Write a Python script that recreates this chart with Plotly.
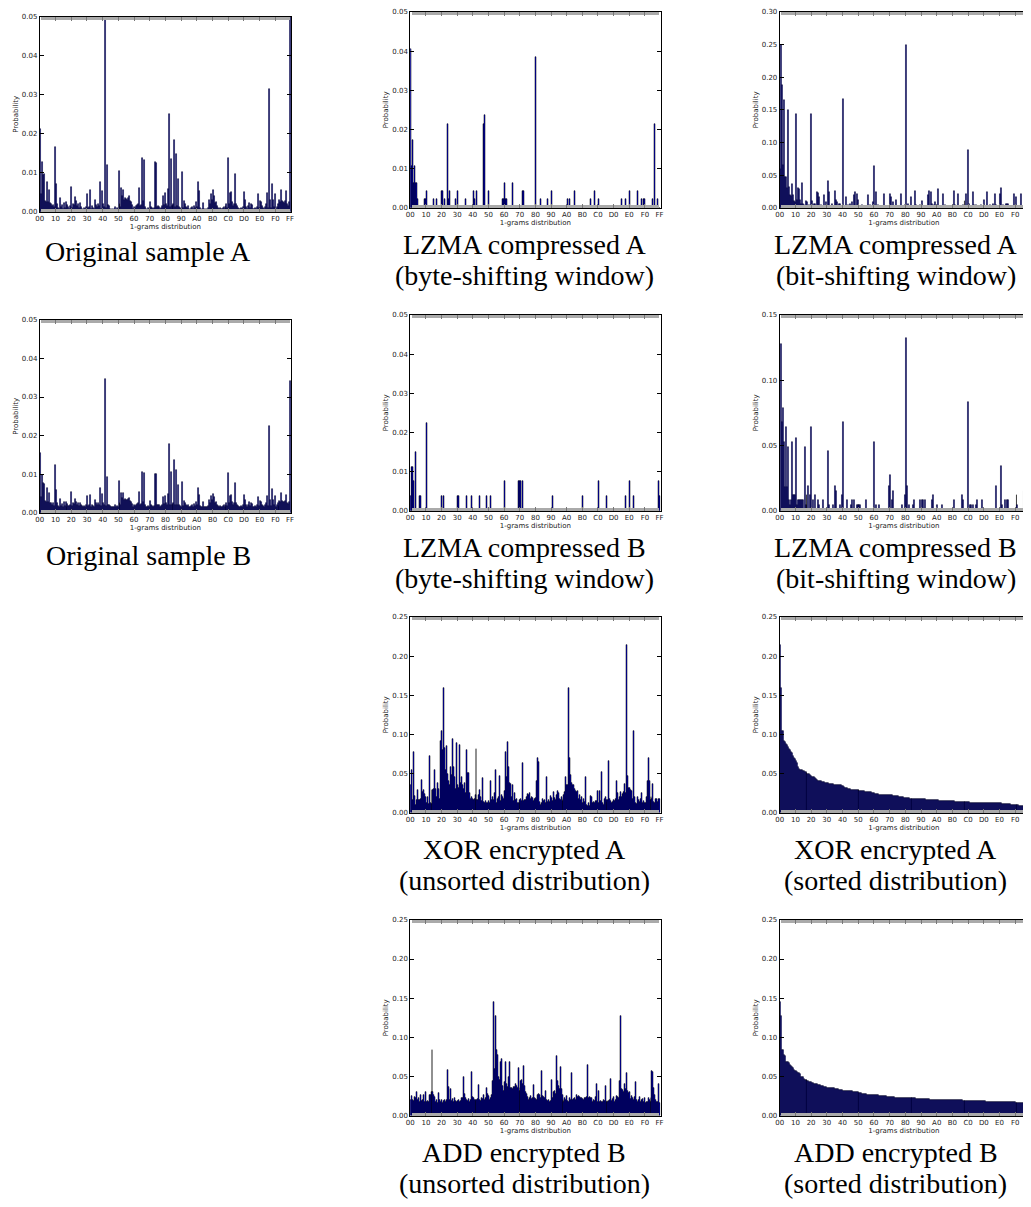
import plotly.graph_objects as go

# page is 1031x1207; the html body has an 8px margin, so the figure is offset by 8px
OFF = 8
W, H = 1031 - OFF, 1207 - OFF

# ---------------- DATA ----------------
byte_labels = ["00", "10", "20", "30", "40", "50", "60", "70", "80", "90",
               "A0", "B0", "C0", "D0", "E0", "F0", "FF"]
byte_ticks = [0, 16, 32, 48, 64, 80, 96, 112, 128, 144, 160, 176, 192, 208, 224, 240, 255]

orig_a = [
    0.0213, 0.0045, 0.0127, 0.0093, 0.0096, 0.0027, 0.0026, 0.0075, 0.0025, 0.0057, 0.0022, 0.0020, 0.0015, 0.0018, 0.0012, 0.0165,
    0.0072, 0.0020, 0.0010, 0.0008, 0.0035, 0.0012, 0.0018, 0.0008, 0.0022, 0.0010, 0.0025, 0.0006, 0.0018, 0.0012, 0.0008, 0.0015,
    0.0064, 0.0010, 0.0020, 0.0018, 0.0037, 0.0028, 0.0015, 0.0020, 0.0010, 0.0022, 0.0012, 0.0008, 0.0005, 0.0010, 0.0008, 0.0012,
    0.0045, 0.0010, 0.0012, 0.0055, 0.0008, 0.0015, 0.0010, 0.0006, 0.0030, 0.0018, 0.0012, 0.0020, 0.0015, 0.0075, 0.0008, 0.0052,
    0.0020, 0.0012, 0.0497, 0.0010, 0.0120, 0.0016, 0.0014, 0.0008, 0.0005, 0.0006, 0.0005, 0.0008, 0.0012, 0.0005, 0.0010, 0.0008,
    0.0105, 0.0020, 0.0012, 0.0062, 0.0040, 0.0055, 0.0030, 0.0035, 0.0033, 0.0030, 0.0036, 0.0040, 0.0028, 0.0025, 0.0018, 0.0008,
    0.0012, 0.0010, 0.0015, 0.0018, 0.0020, 0.0062, 0.0015, 0.0018, 0.0137, 0.0028, 0.0132, 0.0012, 0.0008, 0.0005, 0.0010, 0.0008,
    0.0025, 0.0012, 0.0010, 0.0008, 0.0010, 0.0128, 0.0126, 0.0012, 0.0015, 0.0012, 0.0008, 0.0010, 0.0015, 0.0040, 0.0018, 0.0048,
    0.0020, 0.0015, 0.0058, 0.0250, 0.0012, 0.0136, 0.0015, 0.0018, 0.0020, 0.0185, 0.0012, 0.0148, 0.0015, 0.0085, 0.0012, 0.0010,
    0.0008, 0.0101, 0.0010, 0.0028, 0.0020, 0.0012, 0.0010, 0.0015, 0.0008, 0.0005, 0.0010, 0.0012, 0.0008, 0.0015, 0.0010, 0.0026,
    0.0012, 0.0077, 0.0053, 0.0010, 0.0005, 0.0008, 0.0022, 0.0006, 0.0004, 0.0008, 0.0005, 0.0010, 0.0030, 0.0020, 0.0046, 0.0030,
    0.0055, 0.0040, 0.0022, 0.0026, 0.0015, 0.0010, 0.0008, 0.0010, 0.0006, 0.0008, 0.0010, 0.0012, 0.0008, 0.0015, 0.0020, 0.0010,
    0.0139, 0.0020, 0.0048, 0.0050, 0.0025, 0.0015, 0.0020, 0.0097, 0.0020, 0.0015, 0.0010, 0.0008, 0.0006, 0.0010, 0.0008, 0.0012,
    0.0051, 0.0029, 0.0012, 0.0008, 0.0015, 0.0022, 0.0010, 0.0020, 0.0018, 0.0008, 0.0006, 0.0010, 0.0008, 0.0012, 0.0045, 0.0010,
    0.0028, 0.0025, 0.0015, 0.0010, 0.0008, 0.0012, 0.0020, 0.0048, 0.0010, 0.0315, 0.0030, 0.0010, 0.0071, 0.0030, 0.0012, 0.0046,
    0.0008, 0.0012, 0.0020, 0.0010, 0.0030, 0.0026, 0.0055, 0.0028, 0.0026, 0.0022, 0.0028, 0.0052, 0.0020, 0.0015, 0.0025, 0.0500,
]

orig_b = [
    0.0155, 0.0040, 0.0098, 0.0076, 0.0075, 0.0030, 0.0029, 0.0063, 0.0028, 0.0052, 0.0026, 0.0025, 0.0020, 0.0024, 0.0018, 0.0125,
    0.0060, 0.0024, 0.0018, 0.0016, 0.0035, 0.0018, 0.0022, 0.0016, 0.0028, 0.0018, 0.0027, 0.0015, 0.0022, 0.0018, 0.0017, 0.0020,
    0.0055, 0.0018, 0.0024, 0.0022, 0.0035, 0.0028, 0.0020, 0.0024, 0.0018, 0.0025, 0.0019, 0.0017, 0.0015, 0.0018, 0.0016, 0.0019,
    0.0043, 0.0018, 0.0019, 0.0047, 0.0016, 0.0021, 0.0018, 0.0015, 0.0032, 0.0024, 0.0020, 0.0025, 0.0021, 0.0063, 0.0017, 0.0048,
    0.0024, 0.0019, 0.0347, 0.0018, 0.0093, 0.0021, 0.0020, 0.0017, 0.0015, 0.0016, 0.0015, 0.0016, 0.0019, 0.0015, 0.0018, 0.0016,
    0.0082, 0.0024, 0.0019, 0.0051, 0.0038, 0.0051, 0.0033, 0.0035, 0.0034, 0.0033, 0.0036, 0.0038, 0.0030, 0.0028, 0.0022, 0.0016,
    0.0019, 0.0017, 0.0021, 0.0022, 0.0024, 0.0055, 0.0020, 0.0022, 0.0106, 0.0028, 0.0102, 0.0019, 0.0016, 0.0015, 0.0018, 0.0016,
    0.0030, 0.0019, 0.0017, 0.0016, 0.0018, 0.0101, 0.0100, 0.0019, 0.0021, 0.0019, 0.0016, 0.0018, 0.0021, 0.0041, 0.0022, 0.0043,
    0.0024, 0.0021, 0.0048, 0.0178, 0.0019, 0.0105, 0.0021, 0.0023, 0.0025, 0.0138, 0.0019, 0.0112, 0.0021, 0.0071, 0.0019, 0.0018,
    0.0016, 0.0079, 0.0017, 0.0031, 0.0024, 0.0019, 0.0017, 0.0021, 0.0016, 0.0015, 0.0018, 0.0020, 0.0016, 0.0022, 0.0018, 0.0029,
    0.0019, 0.0065, 0.0047, 0.0017, 0.0015, 0.0016, 0.0027, 0.0015, 0.0014, 0.0016, 0.0015, 0.0018, 0.0033, 0.0024, 0.0043, 0.0032,
    0.0048, 0.0040, 0.0026, 0.0029, 0.0021, 0.0018, 0.0016, 0.0018, 0.0015, 0.0016, 0.0018, 0.0019, 0.0016, 0.0021, 0.0025, 0.0018,
    0.0104, 0.0024, 0.0043, 0.0045, 0.0028, 0.0021, 0.0024, 0.0078, 0.0025, 0.0021, 0.0018, 0.0016, 0.0015, 0.0018, 0.0016, 0.0019,
    0.0045, 0.0032, 0.0019, 0.0016, 0.0021, 0.0027, 0.0018, 0.0025, 0.0023, 0.0016, 0.0015, 0.0018, 0.0016, 0.0019, 0.0042, 0.0018,
    0.0031, 0.0029, 0.0021, 0.0018, 0.0016, 0.0019, 0.0024, 0.0043, 0.0018, 0.0226, 0.0032, 0.0018, 0.0062, 0.0033, 0.0019, 0.0044,
    0.0016, 0.0019, 0.0025, 0.0018, 0.0030, 0.0028, 0.0050, 0.0031, 0.0029, 0.0027, 0.0030, 0.0046, 0.0025, 0.0022, 0.0028, 0.0341,
]

# sparse distributions: (byte value, probability)
lzma_a_byte = [
    (0, 0.0406), (1, 0.0107), (2, 0.0172), (3, 0.0064), (4, 0.0107), (5, 0.0064), (6, 0.0064), (7, 0.0021),
    (14, 0.0021), (15, 0.0021), (16, 0.0043), (24, 0.0021), (27, 0.0021), (32, 0.0043), (33, 0.0043), (35, 0.0021),
    (38, 0.0214), (39, 0.0021), (40, 0.0043), (46, 0.0021), (48, 0.0043), (56, 0.0021), (64, 0.0043), (65, 0.0021),
    (68, 0.0043), (75, 0.0214), (76, 0.0236), (80, 0.0043), (94, 0.0021), (95, 0.0021), (96, 0.0064), (97, 0.0021),
    (98, 0.0021), (104, 0.0064), (115, 0.0043), (116, 0.0043), (128, 0.0386), (133, 0.0021), (140, 0.0021),
    (144, 0.0043), (161, 0.0021), (163, 0.0021), (168, 0.0043), (184, 0.0021), (188, 0.0043), (192, 0.0021),
    (216, 0.0021), (220, 0.0021), (224, 0.0043), (232, 0.0043), (236, 0.0021), (238, 0.0021), (239, 0.0021),
    (248, 0.0021), (250, 0.0214), (253, 0.0021),
]

lzma_b_byte = [
    (0, 0.0037), (1, 0.0112), (2, 0.0112), (3, 0.0075), (5, 0.0150), (9, 0.0037), (10, 0.0037), (16, 0.0225),
    (32, 0.0037), (34, 0.0037), (48, 0.0037), (49, 0.0037), (57, 0.0037), (62, 0.0037), (71, 0.0037), (78, 0.0037),
    (82, 0.0037), (96, 0.0075), (110, 0.0075), (111, 0.0075), (113, 0.0075), (115, 0.0075), (145, 0.0037),
    (176, 0.0037), (192, 0.0075), (200, 0.0037), (220, 0.0037), (224, 0.0075), (228, 0.0037), (254, 0.0075),
    (255, 0.0037),
]

lzma_a_bit = [
    (0, 0.060), (1, 0.250), (2, 0.188), (3, 0.065), (4, 0.165), (5, 0.047), (6, 0.047), (7, 0.030), (8, 0.150),
    (9, 0.032), (10, 0.020), (11, 0.018), (12, 0.036), (13, 0.019), (14, 0.010), (15, 0.008), (16, 0.144),
    (17, 0.012), (18, 0.030), (19, 0.028), (20, 0.012), (21, 0.006), (22, 0.038), (23, 0.005), (24, 0.004),
    (26, 0.010), (28, 0.008), (30, 0.004), (32, 0.144), (33, 0.010), (35, 0.005), (36, 0.006), (38, 0.024),
    (39, 0.022), (40, 0.017), (42, 0.004), (45, 0.019), (47, 0.008), (49, 0.041), (50, 0.024), (53, 0.006),
    (56, 0.026), (57, 0.012), (58, 0.008), (60, 0.005), (61, 0.006), (64, 0.167), (67, 0.016), (69, 0.004),
    (71, 0.005), (73, 0.008), (75, 0.020), (76, 0.024), (78, 0.021), (79, 0.012), (81, 0.002), (84, 0.004),
    (86, 0.002), (90, 0.019), (92, 0.004), (95, 0.008), (96, 0.064), (98, 0.024), (100, 0.004), (106, 0.021),
    (108, 0.002), (112, 0.021), (113, 0.016), (115, 0.008), (118, 0.012), (121, 0.002), (123, 0.021),
    (126, 0.003), (127, 0.004), (128, 0.250), (130, 0.006), (133, 0.017), (135, 0.002), (138, 0.026),
    (139, 0.004), (143, 0.004), (145, 0.011), (149, 0.003), (151, 0.020), (152, 0.026), (154, 0.024),
    (155, 0.005), (157, 0.004), (158, 0.008), (161, 0.028), (162, 0.003), (166, 0.021), (168, 0.004),
    (177, 0.026), (178, 0.004), (181, 0.021), (184, 0.003), (186, 0.004), (188, 0.010), (190, 0.021),
    (192, 0.088), (193, 0.006), (197, 0.024), (198, 0.004), (200, 0.004), (203, 0.002), (205, 0.004),
    (208, 0.012), (211, 0.024), (214, 0.004), (217, 0.006), (219, 0.021), (220, 0.004), (224, 0.021),
    (225, 0.030), (227, 0.004), (230, 0.006), (231, 0.006), (232, 0.006), (234, 0.002), (238, 0.021),
    (240, 0.017), (242, 0.003), (246, 0.021), (248, 0.003), (251, 0.021), (253, 0.004),
]

lzma_b_bit = [
    (1, 0.128), (2, 0.068), (3, 0.079), (4, 0.053), (5, 0.018), (6, 0.064), (7, 0.018), (8, 0.049), (9, 0.008),
    (10, 0.004), (11, 0.008), (12, 0.053), (13, 0.012), (14, 0.012), (15, 0.012), (16, 0.056), (17, 0.004),
    (18, 0.008), (19, 0.008), (20, 0.008), (21, 0.008), (22, 0.008), (23, 0.008), (25, 0.049), (26, 0.004),
    (27, 0.012), (29, 0.019), (31, 0.012), (32, 0.064), (34, 0.008), (36, 0.012), (39, 0.008), (40, 0.004),
    (44, 0.008), (49, 0.046), (50, 0.004), (54, 0.004), (56, 0.019), (57, 0.015), (61, 0.004), (63, 0.012),
    (64, 0.068), (68, 0.008), (72, 0.004), (73, 0.008), (75, 0.008), (78, 0.004), (79, 0.004), (80, 0.004),
    (81, 0.004), (82, 0.004), (88, 0.008), (96, 0.053), (98, 0.004), (101, 0.004), (111, 0.019), (112, 0.027),
    (114, 0.008), (115, 0.015), (124, 0.004), (127, 0.012), (128, 0.132), (129, 0.019), (131, 0.004),
    (136, 0.004), (137, 0.008), (143, 0.008), (145, 0.008), (146, 0.008), (148, 0.008), (155, 0.008),
    (156, 0.012), (160, 0.004), (165, 0.004), (177, 0.008), (185, 0.012), (186, 0.008), (192, 0.083),
    (194, 0.004), (195, 0.004), (197, 0.004), (200, 0.004), (201, 0.008), (206, 0.008), (220, 0.019),
    (225, 0.034), (226, 0.004), (229, 0.008), (231, 0.008), (232, 0.008), (241, 0.012), (242, 0.004),
    (249, 0.015), (252, 0.012),
]

xor_a = [
    0.035, 0.054, 0.016, 0.078, 0.021, 0.010, 0.016, 0.029, 0.016, 0.016, 0.018, 0.042, 0.027, 0.029, 0.024, 0.020,
    0.012, 0.020, 0.011, 0.073, 0.012, 0.011, 0.029, 0.029, 0.030, 0.054, 0.030, 0.020, 0.038, 0.030, 0.017, 0.091,
    0.104, 0.080, 0.159, 0.083, 0.055, 0.085, 0.050, 0.040, 0.035, 0.058, 0.048, 0.094, 0.058, 0.046, 0.030, 0.089,
    0.035, 0.032, 0.086, 0.038, 0.046, 0.036, 0.030, 0.038, 0.025, 0.080, 0.051, 0.051, 0.025, 0.018, 0.020, 0.018,
    0.016, 0.018, 0.022, 0.082, 0.016, 0.016, 0.022, 0.029, 0.020, 0.015, 0.044, 0.014, 0.013, 0.015, 0.012, 0.012,
    0.015, 0.012, 0.040, 0.016, 0.020, 0.016, 0.025, 0.055, 0.012, 0.018, 0.020, 0.047, 0.015, 0.022, 0.020, 0.018,
    0.028, 0.077, 0.046, 0.090, 0.058, 0.038, 0.037, 0.020, 0.035, 0.015, 0.025, 0.016, 0.018, 0.013, 0.012, 0.016,
    0.013, 0.018, 0.015, 0.064, 0.015, 0.016, 0.016, 0.020, 0.024, 0.022, 0.025, 0.018, 0.020, 0.019, 0.015, 0.018,
    0.019, 0.040, 0.070, 0.065, 0.014, 0.010, 0.012, 0.018, 0.015, 0.016, 0.013, 0.045, 0.014, 0.016, 0.014, 0.021,
    0.019, 0.015, 0.027, 0.019, 0.016, 0.022, 0.028, 0.025, 0.018, 0.016, 0.020, 0.015, 0.018, 0.022, 0.026, 0.046,
    0.036, 0.036, 0.159, 0.070, 0.048, 0.038, 0.035, 0.035, 0.030, 0.028, 0.026, 0.028, 0.018, 0.022, 0.016, 0.020,
    0.013, 0.018, 0.014, 0.046, 0.010, 0.009, 0.012, 0.009, 0.021, 0.020, 0.012, 0.014, 0.013, 0.015, 0.015, 0.028,
    0.013, 0.028, 0.015, 0.052, 0.012, 0.010, 0.018, 0.020, 0.016, 0.014, 0.016, 0.066, 0.017, 0.015, 0.012, 0.014,
    0.016, 0.015, 0.018, 0.040, 0.025, 0.016, 0.020, 0.027, 0.020, 0.024, 0.027, 0.037, 0.025, 0.214, 0.047, 0.031,
    0.031, 0.029, 0.028, 0.018, 0.104, 0.020, 0.012, 0.011, 0.020, 0.016, 0.014, 0.018, 0.025, 0.012, 0.015, 0.012,
    0.012, 0.020, 0.040, 0.070, 0.040, 0.016, 0.020, 0.018, 0.037, 0.014, 0.012, 0.018, 0.018, 0.014, 0.018, 0.017,
]

xor_a_sorted = [
    0.214, 0.159, 0.104, 0.104, 0.091, 0.090, 0.088, 0.086, 0.084, 0.082, 0.080, 0.077, 0.076, 0.073, 0.070, 0.069,
    0.066, 0.064, 0.058, 0.056, 0.055, 0.054, 0.054, 0.053, 0.053, 0.052, 0.052, 0.051, 0.050, 0.050, 0.049, 0.048,
    0.047, 0.046, 0.046, 0.045, 0.044, 0.043, 0.042, 0.041, 0.040, 0.040, 0.040, 0.039, 0.039, 0.039, 0.038, 0.038,
    0.038, 0.038, 0.037, 0.037, 0.037, 0.037, 0.037, 0.036, 0.036, 0.036, 0.036, 0.035, 0.035, 0.035, 0.035, 0.034,
    0.034, 0.033, 0.032, 0.031, 0.031, 0.030, 0.030, 0.030, 0.029, 0.029, 0.029, 0.029, 0.029, 0.029, 0.029, 0.029,
    0.029, 0.028, 0.028, 0.028, 0.028, 0.028, 0.028, 0.027, 0.027, 0.027, 0.027, 0.026, 0.026, 0.026, 0.025, 0.025,
    0.025, 0.024, 0.024, 0.024, 0.024, 0.023, 0.023, 0.023, 0.023, 0.023, 0.023, 0.023, 0.022, 0.022, 0.022, 0.022,
    0.022, 0.022, 0.022, 0.021, 0.021, 0.021, 0.021, 0.021, 0.021, 0.020, 0.020, 0.020, 0.020, 0.020, 0.019, 0.019,
    0.019, 0.019, 0.019, 0.019, 0.018, 0.018, 0.018, 0.018, 0.018, 0.018, 0.018, 0.018, 0.017, 0.017, 0.017, 0.017,
    0.017, 0.017, 0.017, 0.017, 0.017, 0.016, 0.016, 0.016, 0.016, 0.016, 0.016, 0.016, 0.016, 0.016, 0.016, 0.016,
    0.016, 0.016, 0.015, 0.015, 0.015, 0.015, 0.015, 0.015, 0.015, 0.015, 0.015, 0.015, 0.015, 0.015, 0.015, 0.015,
    0.015, 0.015, 0.014, 0.014, 0.014, 0.014, 0.014, 0.014, 0.014, 0.014, 0.014, 0.014, 0.014, 0.014, 0.014, 0.014,
    0.014, 0.014, 0.013, 0.013, 0.013, 0.013, 0.013, 0.013, 0.013, 0.013, 0.013, 0.013, 0.013, 0.013, 0.013, 0.013,
    0.013, 0.013, 0.012, 0.012, 0.012, 0.012, 0.012, 0.012, 0.012, 0.012, 0.012, 0.012, 0.012, 0.012, 0.012, 0.012,
    0.012, 0.012, 0.011, 0.011, 0.011, 0.011, 0.011, 0.011, 0.011, 0.011, 0.011, 0.010, 0.010, 0.010, 0.010, 0.010,
    0.010, 0.010, 0.010, 0.010, 0.009, 0.009, 0.009, 0.009, 0.009, 0.009, 0.008, 0.008, 0.008, 0.008, 0.007, 0.007,
]

add_b = [
    0.020, 0.025, 0.020, 0.019, 0.024, 0.022, 0.030, 0.020, 0.022, 0.018, 0.026, 0.019, 0.020, 0.026, 0.018, 0.030,
    0.018, 0.019, 0.017, 0.026, 0.026, 0.030, 0.084, 0.030, 0.026, 0.024, 0.018, 0.020, 0.016, 0.029, 0.020, 0.018,
    0.020, 0.016, 0.019, 0.020, 0.018, 0.020, 0.059, 0.037, 0.020, 0.034, 0.019, 0.021, 0.018, 0.023, 0.019, 0.018,
    0.019, 0.020, 0.018, 0.019, 0.022, 0.023, 0.049, 0.028, 0.022, 0.020, 0.019, 0.021, 0.018, 0.020, 0.056, 0.024,
    0.023, 0.020, 0.020, 0.019, 0.020, 0.021, 0.039, 0.020, 0.019, 0.022, 0.021, 0.027, 0.020, 0.022, 0.036, 0.028,
    0.025, 0.020, 0.022, 0.027, 0.044, 0.145, 0.060, 0.127, 0.084, 0.077, 0.050, 0.045, 0.068, 0.072, 0.038, 0.032,
    0.043, 0.068, 0.040, 0.037, 0.050, 0.068, 0.036, 0.036, 0.034, 0.037, 0.037, 0.040, 0.038, 0.035, 0.061, 0.032,
    0.036, 0.044, 0.045, 0.040, 0.064, 0.038, 0.030, 0.028, 0.024, 0.020, 0.022, 0.025, 0.021, 0.023, 0.039, 0.022,
    0.021, 0.020, 0.026, 0.028, 0.027, 0.022, 0.057, 0.025, 0.024, 0.022, 0.031, 0.020, 0.019, 0.020, 0.018, 0.019,
    0.045, 0.022, 0.030, 0.032, 0.028, 0.076, 0.044, 0.038, 0.034, 0.062, 0.034, 0.026, 0.020, 0.018, 0.022, 0.020,
    0.025, 0.019, 0.018, 0.022, 0.020, 0.054, 0.020, 0.021, 0.022, 0.020, 0.027, 0.024, 0.025, 0.024, 0.023, 0.022,
    0.021, 0.020, 0.023, 0.022, 0.024, 0.065, 0.022, 0.024, 0.023, 0.022, 0.018, 0.020, 0.019, 0.024, 0.040, 0.018,
    0.031, 0.018, 0.019, 0.018, 0.018, 0.020, 0.019, 0.038, 0.017, 0.019, 0.017, 0.019, 0.020, 0.047, 0.019, 0.021,
    0.024, 0.018, 0.020, 0.025, 0.024, 0.022, 0.044, 0.127, 0.034, 0.033, 0.030, 0.041, 0.034, 0.054, 0.032, 0.029,
    0.030, 0.021, 0.025, 0.022, 0.020, 0.024, 0.043, 0.020, 0.018, 0.020, 0.024, 0.018, 0.020, 0.021, 0.017, 0.022,
    0.016, 0.018, 0.018, 0.022, 0.020, 0.018, 0.022, 0.057, 0.056, 0.036, 0.026, 0.020, 0.017, 0.018, 0.040, 0.016,
]

add_b_sorted = [
    0.145, 0.127, 0.084, 0.084, 0.077, 0.076, 0.068, 0.068, 0.068, 0.067, 0.065, 0.064, 0.062, 0.061, 0.059, 0.057,
    0.057, 0.056, 0.055, 0.054, 0.053, 0.050, 0.050, 0.049, 0.047, 0.046, 0.045, 0.045, 0.044, 0.044, 0.043, 0.043,
    0.043, 0.042, 0.042, 0.041, 0.041, 0.040, 0.040, 0.039, 0.039, 0.039, 0.038, 0.038, 0.038, 0.037, 0.037, 0.037,
    0.036, 0.036, 0.036, 0.036, 0.035, 0.035, 0.035, 0.035, 0.034, 0.034, 0.034, 0.034, 0.033, 0.033, 0.033, 0.033,
    0.032, 0.032, 0.032, 0.032, 0.032, 0.031, 0.031, 0.031, 0.031, 0.031, 0.030, 0.030, 0.030, 0.030, 0.030, 0.030,
    0.029, 0.029, 0.029, 0.029, 0.028, 0.028, 0.028, 0.028, 0.028, 0.027, 0.027, 0.027, 0.027, 0.027, 0.026, 0.026,
    0.026, 0.026, 0.026, 0.026, 0.026, 0.025, 0.025, 0.025, 0.025, 0.025, 0.025, 0.025, 0.025, 0.024, 0.024, 0.024,
    0.024, 0.024, 0.024, 0.024, 0.024, 0.023, 0.023, 0.023, 0.023, 0.023, 0.023, 0.023, 0.023, 0.023, 0.023, 0.023,
    0.022, 0.022, 0.022, 0.022, 0.022, 0.022, 0.022, 0.022, 0.022, 0.022, 0.022, 0.021, 0.021, 0.021, 0.021, 0.021,
    0.021, 0.021, 0.021, 0.021, 0.021, 0.021, 0.021, 0.021, 0.021, 0.020, 0.020, 0.020, 0.020, 0.020, 0.020, 0.020,
    0.020, 0.020, 0.020, 0.020, 0.020, 0.020, 0.020, 0.020, 0.020, 0.020, 0.020, 0.020, 0.020, 0.020, 0.020, 0.020,
    0.020, 0.020, 0.020, 0.020, 0.020, 0.020, 0.020, 0.020, 0.020, 0.020, 0.019, 0.019, 0.019, 0.019, 0.019, 0.019,
    0.019, 0.019, 0.019, 0.019, 0.019, 0.019, 0.019, 0.019, 0.019, 0.019, 0.019, 0.019, 0.019, 0.019, 0.019, 0.019,
    0.019, 0.019, 0.018, 0.018, 0.018, 0.018, 0.018, 0.018, 0.018, 0.018, 0.018, 0.018, 0.018, 0.018, 0.018, 0.018,
    0.018, 0.018, 0.017, 0.017, 0.017, 0.017, 0.017, 0.017, 0.017, 0.017, 0.017, 0.017, 0.017, 0.017, 0.017, 0.017,
    0.016, 0.016, 0.016, 0.016, 0.016, 0.016, 0.016, 0.016, 0.016, 0.016, 0.016, 0.016, 0.015, 0.015, 0.015, 0.015,
]


def dense(pairs):
    arr = [0.0] * 256
    for k, v in pairs:
        arr[k] = v
    return arr


def fx(p):
    return (p - OFF) / W


def fy(p):
    return 1 - (p - OFF) / H


# ---------------- LAYOUT (page pixel positions) ----------------
COLS = {1: (36, 289, 256), 2: (409, 661, 256), 3: (781, 1031, 253)}
ROWS23 = {1: (8, 205), 2: (313, 510), 3: (617, 814), 4: (922, 1119)}
ROWS1 = {1: (13, 209), 2: (318, 512)}

panels = [
    dict(data=orig_a, col=1, row=1, ymax=0.05, dt=0.01, cap=["Original sample A"]),
    dict(data=dense(lzma_a_byte), col=2, row=1, ymax=0.05, dt=0.01, cap=["LZMA compressed A", "(byte-shifting window)"]),
    dict(data=dense(lzma_a_bit), col=3, row=1, ymax=0.30, dt=0.05, cap=["LZMA compressed A", "(bit-shifting window)"]),
    dict(data=orig_b, col=1, row=2, ymax=0.05, dt=0.01, cap=["Original sample B"]),
    dict(data=dense(lzma_b_byte), col=2, row=2, ymax=0.05, dt=0.01, cap=["LZMA compressed B", "(byte-shifting window)"]),
    dict(data=dense(lzma_b_bit), col=3, row=2, ymax=0.15, dt=0.05, cap=["LZMA compressed B", "(bit-shifting window)"]),
    dict(data=xor_a, col=2, row=3, ymax=0.25, dt=0.05, cap=["XOR encrypted A", "(unsorted distribution)"]),
    dict(data=xor_a_sorted, col=3, row=3, ymax=0.25, dt=0.05, cap=["XOR encrypted A", "(sorted distribution)"]),
    dict(data=add_b, col=2, row=4, ymax=0.25, dt=0.05, cap=["ADD encrypted B", "(unsorted distribution)"]),
    dict(data=add_b_sorted, col=3, row=4, ymax=0.25, dt=0.05, cap=["ADD encrypted B", "(sorted distribution)"]),
]

CAP_X = {1: 145, 2: 524, 3: 898}
CAP_Y1 = {1: 249, 2: 555}
CAP_Y2 = {1: (242, 273), 2: (547, 578), 3: (851, 882), 4: (1156, 1187)}

TICKFONT = dict(family="DejaVu Sans", size=7, color="#222")
CAPFONT = dict(family="Liberation Serif", size=28, color="#000")

fig = go.Figure()
layout = dict(width=W, height=H, margin=dict(l=0, r=0, t=0, b=0),
              paper_bgcolor="white", plot_bgcolor="white", showlegend=False,
              bargap=0, annotations=[])

xs = [i + 0.5 for i in range(256)]

for n, p in enumerate(panels, start=1):
    x0, x1, xr = COLS[p["col"]]
    y0, y1 = (ROWS1 if p["col"] == 1 else ROWS23)[p["row"]]
    sfx = "" if n == 1 else str(n)
    fig.add_trace(go.Bar(
        x=xs, y=p["data"], width=1.0,
        marker=dict(color="#0000e0", line=dict(color="#000", width=0.5)),
        xaxis="x" + sfx, yaxis="y" + sfx, hoverinfo="skip"))
    layout["xaxis" + sfx] = dict(
        domain=[fx(x0), min(fx(x1), 1.0)], range=[0, xr], anchor="y" + sfx,
        tickmode="array", tickvals=byte_ticks, ticktext=byte_labels,
        ticks="inside", ticklen=4, tickwidth=1, tickcolor="#777",
        minor=dict(tickmode="array", tickvals=list(range(256)), ticks="inside",
                   ticklen=3, tickwidth=1, tickcolor="#aaa", showgrid=False),
        mirror="allticks", showline=True, linecolor="#000", linewidth=1,
        showgrid=False, zeroline=False, tickfont=TICKFONT,
        title=dict(text="1-grams distribution", font=TICKFONT, standoff=1),
        fixedrange=True)
    layout["yaxis" + sfx] = dict(
        domain=[fy(y1), fy(y0)], range=[0, p["ymax"]], anchor="x" + sfx,
        tickmode="linear", tick0=0, dtick=p["dt"], tickformat=".2f",
        ticks="inside", ticklen=4, tickwidth=1, tickcolor="#000",
        mirror=("allticks" if p["col"] != 3 else False),
        showline=True, linecolor="#000", linewidth=1,
        showgrid=False, zeroline=False, tickfont=TICKFONT,
        title=dict(text="Probability", font=TICKFONT, standoff=2),
        fixedrange=True)
    cx = fx(CAP_X[p["col"]])
    ys = [CAP_Y1[p["row"]]] if len(p["cap"]) == 1 else CAP_Y2[p["row"]]
    for txt, yy in zip(p["cap"], ys):
        layout["annotations"].append(dict(
            text=txt, x=cx, y=fy(yy), xref="paper", yref="paper",
            xanchor="center", yanchor="middle", showarrow=False, font=CAPFONT))
    if p["col"] == 3:
        # partially visible "FF" label at the cut right edge
        layout["annotations"].append(dict(
            text="FF", x=fx(781 + 255.5 * 250 / 253), y=fy(y1 + 6),
            xref="paper", yref="paper", xanchor="center", yanchor="middle",
            showarrow=False, font=TICKFONT))

fig.update_layout(**layout)
fig.write_html("out.html")
